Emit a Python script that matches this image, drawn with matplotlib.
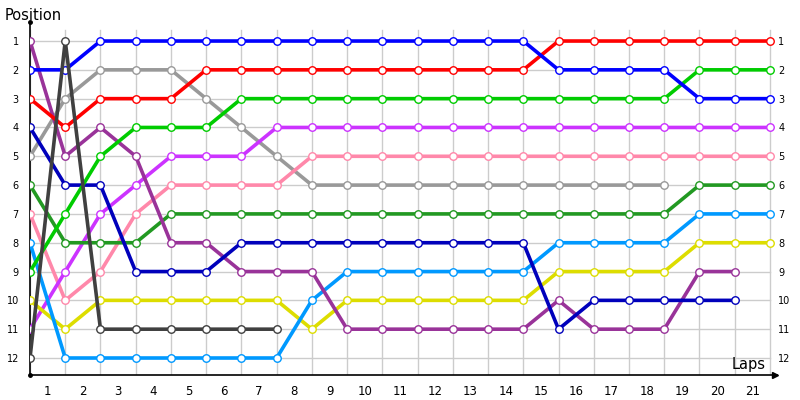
import matplotlib
matplotlib.use("Agg")
import matplotlib.pyplot as plt
import numpy as np

# lap index 0..21 (start + 21 laps)
positions = list(range(1, 13))
lap_labels = [str(i) for i in range(1, 22)]

blue        = [2, 2, 1, 1, 1, 1, 1, 1, 1, 1, 1, 1, 1, 1, 1, 2, 2, 2, 2, 3, 3, 3]
red         = [3, 4, 3, 3, 3, 2, 2, 2, 2, 2, 2, 2, 2, 2, 2, 1, 1, 1, 1, 1, 1, 1]
green       = [9, 7, 5, 4, 4, 4, 3, 3, 3, 3, 3, 3, 3, 3, 3, 3, 3, 3, 3, 2, 2, 2]
violet      = [11, 9, 7, 6, 5, 5, 5, 4, 4, 4, 4, 4, 4, 4, 4, 4, 4, 4, 4, 4, 4, 4]
pink        = [7, 10, 9, 7, 6, 6, 6, 6, 5, 5, 5, 5, 5, 5, 5, 5, 5, 5, 5, 5, 5, 5]
gray        = [5, 3, 2, 2, 2, 3, 4, 5, 6, 6, 6, 6, 6, 6, 6, 6, 6, 6, 6]
dark_green  = [6, 8, 8, 8, 7, 7, 7, 7, 7, 7, 7, 7, 7, 7, 7, 7, 7, 7, 7, 6, 6, 6]
light_blue  = [8, 12, 12, 12, 12, 12, 12, 12, 10, 9, 9, 9, 9, 9, 9, 8, 8, 8, 8, 7, 7, 7]
yellow      = [10, 11, 10, 10, 10, 10, 10, 10, 11, 10, 10, 10, 10, 10, 10, 9, 9, 9, 9, 8, 8, 8]
dark_purple = [1, 5, 4, 5, 8, 8, 9, 9, 9, 11, 11, 11, 11, 11, 11, 10, 11, 11, 11, 9, 9]
dark_blue   = [4, 6, 6, 9, 9, 9, 8, 8, 8, 8, 8, 8, 8, 8, 8, 11, 10, 10, 10, 10, 10]
dark_gray   = [12, 1, 11, 11, 11, 11, 11, 11]

series = [
    (gray, "#999999"),
    (pink, "#ff88aa"),
    (violet, "#cc33ff"),
    (yellow, "#dddd00"),
    (light_blue, "#0099ff"),
    (dark_green, "#229922"),
    (dark_purple, "#993399"),
    (dark_blue, "#0000bb"),
    (green, "#00cc00"),
    (red, "#ff0000"),
    (blue, "#0000ff"),
    (dark_gray, "#404040"),
]

fig = plt.figure(figsize=(8, 4), dpi=100)
ax = fig.add_axes([30 / 800, 25 / 400, (777 - 30) / 800, (378 - 25) / 400])
ax.set_xlim(0, 21.2)
ax.set_ylim(12.59, 0.34)

# grid
for x in range(0, 22):
    ax.plot([x, x], [0.62, 12.59], color="#cccccc", lw=1.0, zorder=1)
for p in positions:
    ax.plot([0, 21], [p, p], color="#cccccc", lw=1.0, zorder=1)

for i, (vals, col) in enumerate(series):
    xs = np.arange(len(vals))
    ax.plot(xs, vals, color=col, lw=2.6, solid_joinstyle="miter",
            marker="o", markersize=5.4, markerfacecolor="white",
            markeredgecolor=col, markeredgewidth=1.0, zorder=3 + i)

for s in ["top", "right"]:
    ax.spines[s].set_visible(False)
ax.spines["left"].set_linewidth(1.2)
ax.spines["bottom"].set_linewidth(1.2)

ax.set_yticks(positions)
ax.set_yticklabels([str(p) for p in positions], fontsize=7)
ax.tick_params(axis="y", length=0, pad=8)
ax.set_xticks(np.arange(0.5, 21, 1))
ax.set_xticklabels(lap_labels, fontsize=8.5)
ax.tick_params(axis="x", length=0, pad=7)

sec = ax.secondary_yaxis("right")
sec.set_yticks(positions)
sec.set_yticklabels([str(p) for p in positions], fontsize=7)
sec.tick_params(length=0, pad=1)
sec.spines["right"].set_visible(False)

# axis decorations
ax.plot([21.15], [12.59], marker=">", color="black", markersize=5, clip_on=False, zorder=20)
ax.plot([0], [0.34], marker="o", color="black", markersize=2.5, clip_on=False, zorder=20)
ax.plot([0], [12.59], marker="o", color="black", markersize=2.5, clip_on=False, zorder=20)

fig.text(5 / 800, 1 - 15 / 400, "Position", fontsize=10.5, ha="left", va="center")
fig.text(766 / 800, 1 - 364 / 400, "Laps", fontsize=10.5, ha="right", va="center")

fig.savefig("out.png", dpi=100)
